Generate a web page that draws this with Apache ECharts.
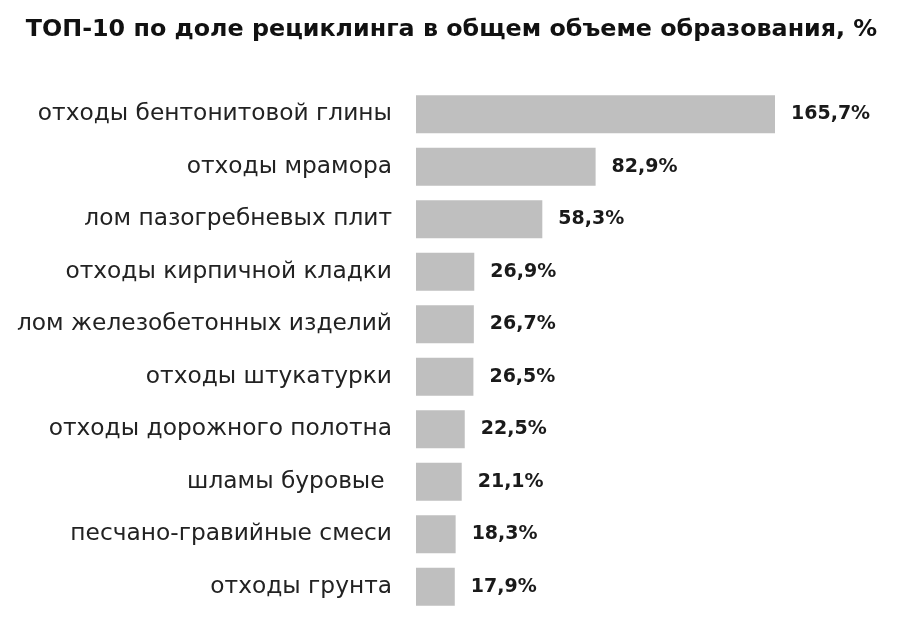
<!DOCTYPE html>
<html>
<head>
<meta charset="utf-8">
<script src="https://cdn.jsdelivr.net/npm/echarts@6/dist/echarts.min.js"></script>
<style>
  html, body { margin: 0; padding: 0; background: #fff; }
  #chart { width: 903px; height: 623px; }
</style>
</head>
<body>
<div id="chart"></div>
<script>
// 类别（从上到下）
const categories = [
    'отходы бентонитовой глины',
    'отходы мрамора',
    'лом пазогребневых плит',
    'отходы кирпичной кладки',
    'лом железобетонных изделий',
    'отходы штукатурки',
    'отходы дорожного полотна',
    'шламы буровые ',
    'песчано-гравийные смеси',
    'отходы грунта'
];
// 回收比例，%
const values = [165.7, 82.9, 58.3, 26.9, 26.7, 26.5, 22.5, 21.1, 18.3, 17.9];

const titleText = 'ТОП-10 по доле рециклинга в общем объеме образования, %';

window.addEventListener('DOMContentLoaded', function() {
    const chart = echarts.init(document.getElementById('chart'));
    const option = {
        backgroundColor: '#fff',
        animation: false,
        title: {
            text: titleText,
            left: 'center',
            top: 13,
            textStyle: {
                fontFamily: 'DejaVu Sans',
                fontSize: 23.8,
                fontWeight: 'bold',
                color: '#111'
            }
        },
        grid: {
            left: 416,
            right: 128,
            top: 88,
            bottom: 10,
            containLabel: false
        },
        xAxis: {
            type: 'value',
            min: 0,
            max: 165.7,
            show: false
        },
        yAxis: {
            type: 'category',
            inverse: true,
            data: categories,
            axisLine: { show: false },
            axisTick: { show: false },
            axisLabel: {
                margin: 24,
                fontFamily: 'DejaVu Sans',
                fontSize: 23.3,
                color: '#222'
            }
        },
        series: [
            {
                type: 'bar',
                data: values,
                barWidth: 38,
                itemStyle: { color: '#bfbfbf' },
                label: {
                    show: true,
                    position: 'right',
                    distance: 16,
                    fontFamily: 'DejaVu Sans',
                    fontSize: 19,
                    fontWeight: 'bold',
                    color: '#1a1a1a',
                    formatter: function(p) {
                        return p.value.toFixed(1).replace('.', ',') + '%';
                    }
                }
            }
        ]
    };
    chart.setOption(option);
});
</script>
</body>
</html>
